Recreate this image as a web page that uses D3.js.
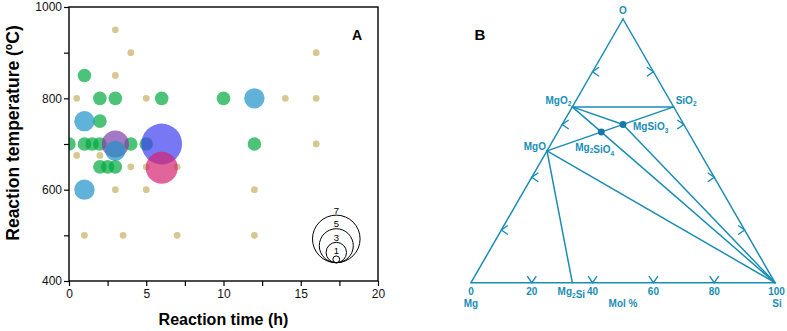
<!DOCTYPE html>
<html>
<head>
<meta charset="utf-8">
<script src="https://cdn.jsdelivr.net/npm/d3@7"></script>
<style>
  body { margin: 0; background: #fff; }
  svg { font-family: "Liberation Sans", Arial, sans-serif; }
</style>
</head>
<body>
<div id="svgContainer"></div>
<script>
// ---- panel A data: [time (h), temperature (C), size]
var tanPoints = [[3, 950, 1], [4, 900, 1], [3, 850, 1], [16, 900, 1], [0.5, 800, 1], [5, 800, 1], [14, 800, 1], [16, 800, 1],
    [0.5, 675, 1], [2, 675, 1], [4, 650, 1], [5, 650, 1], [7, 650, 1], [16, 700, 1], [3, 600, 1], [5, 600, 1], [12, 600, 1],
    [1, 500, 1], [3.5, 500, 1], [7, 500, 1], [12, 500, 1]];
var greenPoints = [[1, 850, 2], [2, 800, 2], [3, 800, 2], [6, 800, 2], [10, 800, 2], [2, 750, 2], [0, 700, 2], [1, 700, 2],
    [1.5, 700, 2], [2, 700, 2], [4, 700, 2], [5, 700, 2], [12, 700, 2], [2, 650, 2], [2.5, 650, 2], [3, 650, 2]];
var purplePoints = [[3, 700, 4]];
var bluePoints = [[1, 750, 3], [1, 600, 3], [12, 800, 3], [3, 685, 3]];
var violetPoints = [[6, 700, 6]];
var pinkPoints = [[6, 648, 4.7]];
var legendSizes = [7, 5, 3, 1];
var xTicks = [0, 5, 10, 15, 20], xMinor = [2.5, 7.5, 12.5, 17.5];
var yTicks = [400, 600, 800, 1000], yMinor = [500, 700, 900];

// ---- panel B data: compositions in mol % [Mg, Si, O]
var phases = {
    O: [0, 0, 100], Mg: [100, 0, 0], Si: [0, 100, 0],
    MgO2: [100 / 3, 0, 200 / 3], MgO: [50, 0, 50], SiO2: [0, 100 / 3, 200 / 3],
    MgSiO3: [20, 20, 60], Mg2SiO4: [200 / 7, 100 / 7, 400 / 7], Mg2Si: [200 / 3, 100 / 3, 0]
};
var tieLines = [["Mg", "Si"], ["Si", "O"], ["O", "Mg"], ["MgO2", "SiO2"], ["MgO2", "MgSiO3"], ["MgO2", "Si"],
    ["MgO", "SiO2"], ["MgSiO3", "Si"], ["MgO", "Si"], ["MgO", "Mg2Si"]];
var dotPhases = ["MgSiO3", "Mg2SiO4"];
var molTicks = [0, 20, 40, 60, 80, 100];
var arrowTicks = [20, 40, 60, 80];

var width = 787, height = 331;
var svg = d3.select("#svgContainer").append("svg")
    .attr("width", width).attr("height", height);

// ================= panel A =================
var margin = { top: 7, left: 69, right: 409, bottom: 50 };
var pw = width - margin.left - margin.right, ph = height - margin.top - margin.bottom;
var gA = svg.append("g").attr("transform", `translate(${margin.left},${margin.top})`);

var xScale = d3.scaleLinear().domain([0, 20]).range([0, pw]);
var yScale = d3.scaleLinear().domain([400, 1000]).range([ph, 0]);
var rScale = d3.scaleLinear().domain([0, 7]).range([0, 23.8]);

gA.append("clipPath").attr("id", "plotClip")
    .append("rect").attr("width", pw).attr("height", ph);

var seriesList = [
    { pts: tanPoints, color: "rgb(198,176,98)" },
    { pts: greenPoints, color: "rgb(0,170,62)" },
    { pts: purplePoints, color: "rgb(126,62,169)" },
    { pts: bluePoints, color: "rgb(30,145,200)" },
    { pts: violetPoints, color: "rgb(62,62,241)" },
    { pts: pinkPoints, color: "rgb(212,34,112)" }
];
var dots = gA.append("g").attr("clip-path", "url(#plotClip)");
seriesList.forEach(s => {
    dots.selectAll(null).data(s.pts).enter().append("circle")
        .attr("cx", d => xScale(d[0]))
        .attr("cy", d => yScale(d[1]))
        .attr("r", d => rScale(d[2]))
        .attr("fill", s.color)
        .attr("fill-opacity", 0.7);
});

// axes
gA.append("g").attr("transform", `translate(0,${ph})`)
    .call(d3.axisBottom(xScale).tickValues(xTicks).tickSize(5).tickSizeOuter(0).tickPadding(3));
gA.append("g").attr("transform", `translate(0,${ph})`)
    .call(d3.axisBottom(xScale).tickValues(xMinor).tickSize(5).tickSizeOuter(0).tickFormat(""));
gA.append("g")
    .call(d3.axisLeft(yScale).tickValues(yTicks).tickFormat(d3.format("d")).tickSize(5).tickSizeOuter(0).tickPadding(2));
gA.append("g")
    .call(d3.axisLeft(yScale).tickValues(yMinor).tickSize(5).tickSizeOuter(0).tickFormat(""));
gA.selectAll(".domain").remove();
gA.selectAll(".tick line").attr("stroke", "#000").attr("stroke-width", 1.2);
gA.selectAll(".tick text").attr("font-size", 12).attr("fill", "#111")
    .attr("font-family", "'Liberation Sans', Arial, sans-serif");
gA.append("rect").attr("width", pw).attr("height", ph)
    .attr("fill", "none").attr("stroke", "#000").attr("stroke-width", 1.4);

gA.append("text")
    .attr("x", pw / 2).attr("y", ph + 44)
    .attr("text-anchor", "middle")
    .style("font-size", "16px").style("font-weight", "bold")
    .text("Reaction time (h)");
gA.append("text")
    .attr("transform", "rotate(-90)")
    .attr("x", -126).attr("y", -50)
    .attr("text-anchor", "middle")
    .style("font-size", "17.5px").style("font-weight", "bold")
    .text("Reaction temperature (ºC)");
gA.append("text")
    .attr("x", 288).attr("y", 33)
    .attr("text-anchor", "middle")
    .style("font-size", "14px").style("font-weight", "bold")
    .text("A");

// size legend
var legX = xScale(17.3), legBottom = yScale(440);
var leg = gA.append("g");
legendSizes.forEach(v => {
    leg.append("circle")
        .attr("cx", legX).attr("cy", legBottom - rScale(v)).attr("r", rScale(v))
        .attr("fill", "none").attr("stroke", "#000").attr("stroke-width", 1);
    leg.append("text")
        .attr("x", legX).attr("y", legBottom - 2 * rScale(v) - 1.5)
        .attr("text-anchor", "middle").style("font-size", "9.5px")
        .text(v);
});

// ================= panel B =================
var teal = "#1a8db5";
var tx = d3.scaleLinear().domain([0, 100]).range([471, 775]);
var ty = d3.scaleLinear().domain([0, 100]).range([282.7, 19]);
function pos(c) { return [tx(c[1] + c[2] / 2), ty(c[2])]; }
var gB = svg.append("g");

gB.selectAll(null).data(tieLines).enter().append("line")
    .attr("x1", d => pos(phases[d[0]])[0]).attr("y1", d => pos(phases[d[0]])[1])
    .attr("x2", d => pos(phases[d[1]])[0]).attr("y2", d => pos(phases[d[1]])[1])
    .attr("stroke", teal).attr("stroke-width", 1.5).attr("stroke-linecap", "round");

// direction chevrons on each edge
var chev = [];
arrowTicks.forEach(p => {
    chev.push({ c: [100 - p, 0, p], a: [[6.5, -4.5], [6.5, 4.5]] });   // left edge
    chev.push({ c: [0, 100 - p, p], a: [[-6.5, -4.5], [-6.5, 4.5]] }); // right edge
    chev.push({ c: [100 - p, p, 0], a: [[-4.5, -6.5], [4.5, -6.5]] }); // base
});
gB.selectAll(null).data(chev).enter().append("path")
    .attr("d", d => {
        var q = pos(d.c);
        return d3.line()([[q[0] + d.a[0][0], q[1] + d.a[0][1]], q, [q[0] + d.a[1][0], q[1] + d.a[1][1]]]);
    })
    .attr("fill", "none").attr("stroke", teal).attr("stroke-width", 1.4);

gB.selectAll(null).data(dotPhases).enter().append("circle")
    .attr("cx", d => pos(phases[d])[0]).attr("cy", d => pos(phases[d])[1])
    .attr("r", 3.4).attr("fill", "#137aa8");

// text with optional subscripts
function label(txt, sub, x, y, anchor) {
    var t = gB.append("text").attr("x", x).attr("y", y)
        .attr("text-anchor", anchor || "start")
        .attr("fill", teal).style("font-size", "10px").style("font-weight", "bold");
    txt.forEach((s, i) => {
        t.append("tspan").text(s);
        if (sub[i]) {
            t.append("tspan").attr("dy", 2.5).style("font-size", "6.5px").text(sub[i]);
            t.append("tspan").attr("dy", -2.5).text("");
        }
    });
    return t;
}
var pO = pos(phases.O), pMgO2 = pos(phases.MgO2), pMgO = pos(phases.MgO), pSiO2 = pos(phases.SiO2);
var pMS3 = pos(phases.MgSiO3), pM2S4 = pos(phases.Mg2SiO4), pM2Si = pos(phases.Mg2Si);
label(["O"], [], pO[0], pO[1] - 5, "middle");
label(["MgO"], ["2"], pMgO2[0] - 1, pMgO2[1] - 3, "end");
label(["MgO"], [], pMgO[0] - 1, pMgO[1] - 0.5, "end");
label(["SiO"], ["2"], pSiO2[0] + 2, pSiO2[1] - 3, "start");
label(["MgSiO"], ["3"], pMS3[0] + 10, pMS3[1] + 6, "start");
label(["Mg", "SiO"], ["2", "4"], pM2S4[0] - 26, pM2S4[1] + 18.5, "start");
label(["Mg", "Si"], ["2", ""], pM2Si[0] - 1, 295, "middle");

molTicks.forEach(v => {
    label([String(v)], [], tx(v) + (v === 100 ? 1.5 : 0), 295, "middle");
});
label(["Mg"], [], tx(0), 307, "middle");
label(["Si"], [], tx(100) + 2, 307, "middle");
label(["Mol %"], [], tx(50), 307, "middle");

svg.append("text").attr("x", 480).attr("y", 39.5)
    .attr("text-anchor", "middle")
    .style("font-size", "15px").style("font-weight", "bold")
    .text("B");
</script>
</body>
</html>
